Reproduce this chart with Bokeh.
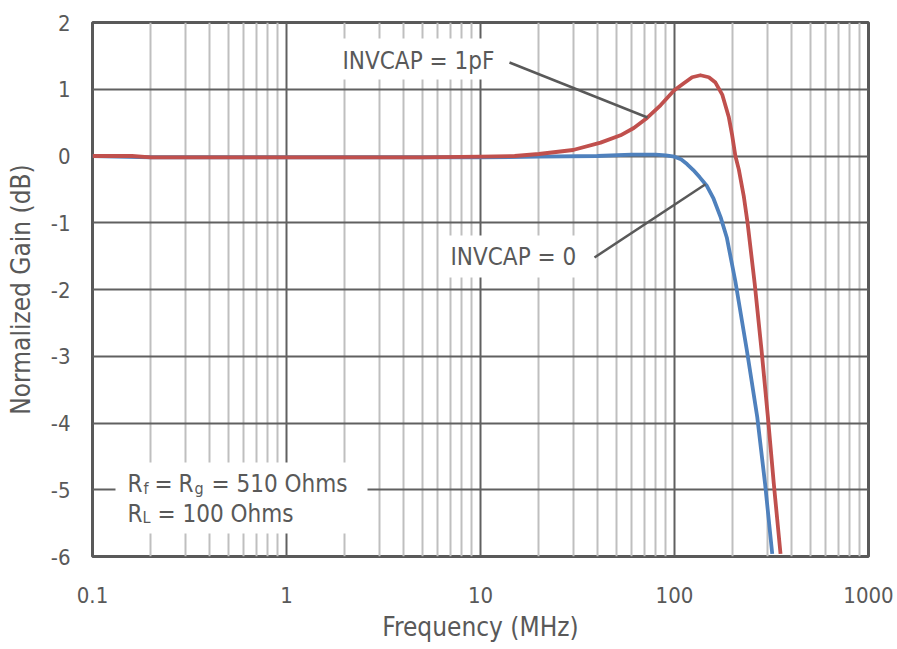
import numpy as np
from bokeh.plotting import figure
from bokeh.models import FixedTicker, Label, BoxAnnotation
from bokeh.embed import file_html
from bokeh.resources import INLINE

# ---------------- data ----------------
freq_0 = [0.1, 0.2, 0.5, 1, 2, 5, 10, 20, 40, 60, 80, 90, 100, 108, 116, 125,
          135, 147, 159, 173, 186, 206, 236, 267, 293, 319]
gain_0 = [0.0, -0.02, -0.02, -0.02, -0.02, -0.02, -0.02, -0.01, 0.0, 0.02, 0.02,
          0.01, -0.01, -0.05, -0.12, -0.21, -0.32, -0.45, -0.64, -0.92, -1.22,
          -1.88, -2.91, -3.91, -4.91, -5.96]

freq_1p = [0.1, 0.16, 0.2, 0.5, 1, 2, 5, 10, 15, 20, 30, 41.6, 52.7, 61.7, 72.2,
           84.7, 99.4, 111.7, 123.3, 136, 150.3, 162.6, 176.2, 190.6, 198, 206,
           214.5, 227.5, 238, 259, 281, 303, 325, 352]
gain_1p = [0.0, 0.0, -0.02, -0.02, -0.02, -0.02, -0.02, -0.01, 0.0, 0.03, 0.09,
           0.2, 0.31, 0.42, 0.57, 0.76, 0.98, 1.09, 1.18, 1.21, 1.18, 1.1, 0.92,
           0.58, 0.32, 0.0, -0.2, -0.6, -1.0, -1.91, -2.91, -3.91, -4.91, -5.96]

x_ticks = [0.1, 1, 10, 100, 1000]
x_tick_labels = ["0.1", "1", "10", "100", "1000"]
y_ticks = [-6, -5, -4, -3, -2, -1, 0, 1, 2]
y_tick_labels = ["-6", "-5", "-4", "-3", "-2", "-1", "0", "1", "2"]

series_names = ["INVCAP = 0", "INVCAP = 1pF"]
x_title = "Frequency (MHz)"
y_title = "Normalized Gain (dB)"

# ---------------- styling ----------------
FONT = "DejaVu Sans Condensed"
TXT = "#595959"
RED = "#C0504D"
BLUE = "#4F81BD"

W, H = 897, 649
# pixel positions of the plot frame (used to place annotations)
FL, FR, FT, FB = 92, 868, 22, 556


def X(px):
    return 10 ** (-1 + (px - FL) / (FR - FL) * 4)


def Y(py):
    return 2 - (py - FT) / (FB - FT) * 8


p = figure(width=W, height=H, x_axis_type="log", x_range=(0.1, 1000),
           y_range=(-6, 2), output_backend="svg", toolbar_location=None,
           min_border_left=FL, min_border_right=W - FR, min_border_top=FT,
           min_border_bottom=H - FB)
p.background_fill_color = "white"
p.border_fill_color = "white"
p.outline_line_color = "#595959"
p.outline_line_width = 3

minor = [m * 10.0 ** e for e in range(-1, 3) for m in range(2, 10)]
xt = FixedTicker(ticks=x_ticks, minor_ticks=minor)
p.xaxis.ticker = xt
p.xgrid.ticker = xt
yt = FixedTicker(ticks=y_ticks)
p.yaxis.ticker = yt
p.ygrid.ticker = yt
p.xaxis.major_label_overrides = {t: l for t, l in zip(x_ticks, x_tick_labels)}
p.yaxis.major_label_overrides = {t: l for t, l in zip(y_ticks, y_tick_labels)}

for ax in (p.xaxis[0], p.yaxis[0]):
    ax.axis_line_color = None
    ax.major_tick_line_color = None
    ax.minor_tick_line_color = None
    ax.major_tick_out = 0
    ax.major_tick_in = 0
    ax.minor_tick_out = 0
    ax.minor_tick_in = 0
    ax.major_label_text_font = FONT
    ax.major_label_text_font_size = "22px"
    ax.major_label_text_color = TXT
    ax.axis_label_text_font = FONT
    ax.axis_label_text_font_size = "26px"
    ax.axis_label_text_color = TXT
    ax.axis_label_text_font_style = "normal"

p.xaxis.major_label_standoff = 30
p.yaxis.major_label_standoff = 22
p.xaxis.axis_label = x_title
p.xaxis.axis_label_standoff = 6
p.yaxis.axis_label = y_title
p.yaxis.axis_label_standoff = 12

p.xgrid.grid_line_color = "#606060"
p.xgrid.grid_line_width = 2
p.xgrid.minor_grid_line_color = "#bfbfbf"
p.xgrid.minor_grid_line_width = 2
p.ygrid.grid_line_color = "#606060"
p.ygrid.grid_line_width = 2

# curves
p.line(freq_0, gain_0, line_color=BLUE, line_width=3.8, line_join="round")
p.line(freq_1p, gain_1p, line_color=RED, line_width=3.8, line_join="round")

# white boxes behind annotations
for l, r, t, b in [(335, 505, 38, 79), (440, 590, 235, 277), (115, 367, 462, 533)]:
    p.add_layout(BoxAnnotation(left=X(l), right=X(r), top=Y(t), bottom=Y(b),
                               fill_color="white", fill_alpha=1.0,
                               line_color=None))


# leader lines ending on the curves
def on_curve(fx, fs, gs):
    return float(np.interp(np.log10(fx), np.log10(fs), gs))


f_a = X(647)
f_b = X(705)
p.segment(x0=[X(509), X(594)], y0=[Y(62), Y(257)],
          x1=[f_a, f_b], y1=[on_curve(f_a, freq_1p, gain_1p), on_curve(f_b, freq_0, gain_0)],
          line_color="#595959", line_width=2.5)

DY = -9  # baseline correction


def lab(px, py, text, size="24px", align="left"):
    p.add_layout(Label(x=X(px), y=Y(py + DY), text=text, text_font=FONT,
                       text_font_size=size, text_color=TXT, text_align=align,
                       text_baseline="alphabetic"))


lab(342, 69, series_names[1])
lab(450, 265, series_names[0])

# R_f = R_g = 510 Ohms  /  R_L = 100 Ohms  with subscripts
lab(127, 492, "R")
lab(143, 497, "f", size="16px")
lab(154, 492, "=")
lab(178, 492, "R")
lab(194, 497, "g", size="16px")
lab(211, 492, "= 510 Ohms")
lab(127, 522, "R")
lab(142, 526, "L", size="16px")
lab(157, 522, "= 100 Ohms")

open("out.html", "w").write(file_html(p, INLINE))
